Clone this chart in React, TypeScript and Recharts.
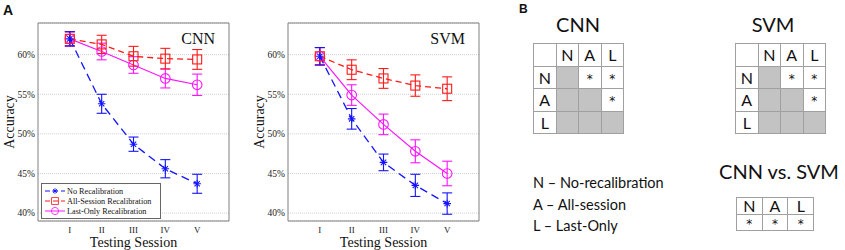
import React from 'react';
import { LineChart, Line, XAxis, YAxis, CartesianGrid, ErrorBar, ReferenceArea, Legend } from 'recharts';

// sessions on the x axis (numeric so we get a half-gap on both ends)
const sessions = [1, 2, 3, 4, 5];
const sessionLabels = ['I', 'II', 'III', 'IV', 'V'];
const accuracyTicks = [40, 45, 50, 55, 60];

// CNN accuracy (%) and error bar half-widths
const cnnNone = [62.0, 53.8, 48.7, 45.6, 43.7];
const cnnNoneErr = [0.9, 1.2, 0.9, 1.15, 1.2];
const cnnAll = [62.0, 61.3, 59.8, 59.5, 59.4];
const cnnAllErr = [0.9, 1.15, 1.25, 1.3, 1.25];
const cnnLast = [62.0, 60.4, 58.7, 57.0, 56.2];
const cnnLastErr = [0.9, 1.05, 1.05, 1.2, 1.35];

// SVM accuracy (%)
const svmNone = [59.8, 51.9, 46.4, 43.5, 41.2];
const svmNoneErr = [1.1, 1.3, 1.05, 1.4, 1.35];
const svmAll = [59.8, 58.1, 57.0, 56.1, 55.7];
const svmAllErr = [1.1, 1.25, 1.25, 1.35, 1.5];
const svmLast = [59.8, 54.9, 51.2, 47.8, 45.0];
const svmLastErr = [1.1, 1.3, 1.3, 1.45, 1.55];

// panel B: significance tables ('-' = greyed cell)
const methods = ['N', 'A', 'L'];
const methodNames = ['No-recalibration', 'All-session', 'Last-Only'];
const cnnSig = [['-', '*', '*'], ['-', '-', '*'], ['-', '-', '-']];
const svmSig = [['-', '*', '*'], ['-', '-', '*'], ['-', '-', '-']];
const crossSig = ['*', '*', '*'];

const BLUE = '#1414ff';
const RED = '#ff1a1a';
const MAGENTA = '#ff14ff';
const SERIF = '"Liberation Serif", "Times New Roman", serif';
const SANS = 'Lato, "Open Sans", sans-serif';

const buildRows = (none: number[], noneErr: number[], all: number[], allErr: number[], last: number[], lastErr: number[]) =>
  sessions.map((x, i) => ({
    x,
    none: none[i], noneErr: noneErr[i],
    all: all[i], allErr: allErr[i],
    last: last[i], lastErr: lastErr[i],
  }));

const cnnRows = buildRows(cnnNone, cnnNoneErr, cnnAll, cnnAllErr, cnnLast, cnnLastErr);
const svmRows = buildRows(svmNone, svmNoneErr, svmAll, svmAllErr, svmLast, svmLastErr);

type MarkerKind = 'star' | 'square' | 'circle';

const Marker = ({ cx, cy, kind, color }: { cx: number; cy: number; kind: MarkerKind; color: string }) => {
  if (cx == null || cy == null) return null;
  if (kind === 'square') {
    return <rect x={cx - 4.5} y={cy - 4.5} width={9} height={9} fill="none" stroke={color} strokeWidth={1.1} />;
  }
  if (kind === 'circle') {
    return <circle cx={cx} cy={cy} r={4.8} fill="none" stroke={color} strokeWidth={1.1} />;
  }
  const r = 3.8;
  const d = r * 0.7;
  return (
    <g stroke={color} strokeWidth={1.1}>
      <line x1={cx - r} y1={cy} x2={cx + r} y2={cy} />
      <line x1={cx} y1={cy - r} x2={cx} y2={cy + r} />
      <line x1={cx - d} y1={cy - d} x2={cx + d} y2={cy + d} />
      <line x1={cx - d} y1={cy + d} x2={cx + d} y2={cy - d} />
    </g>
  );
};

const legendItems: { name: string; color: string; dash?: string; kind: MarkerKind }[] = [
  { name: 'No Recalibration', color: BLUE, dash: '5 3', kind: 'star' },
  { name: 'All-Session Recalibration', color: RED, dash: '5 3', kind: 'square' },
  { name: 'Last-Only Recalibration', color: MAGENTA, kind: 'circle' },
];

const LegendBox = () => (
  <svg width={120} height={36}>
    <rect x={0.5} y={0.5} width={119} height={35} fill="#fff" stroke="#666" />
    {legendItems.map((it, i) => (
      <g key={it.name}>
        <line x1={4} x2={24} y1={8 + i * 10} y2={8 + i * 10} stroke={it.color} strokeWidth={1} strokeDasharray={it.dash} />
        <g transform={`translate(14 ${8 + i * 10}) scale(0.75) translate(-14 ${-(8 + i * 10)})`}>
          <Marker cx={14} cy={8 + i * 10} kind={it.kind} color={it.color} />
        </g>
        <text x={26} y={11 + i * 10} fontSize={8.2} fontFamily={SERIF} fill="#111">{it.name}</text>
      </g>
    ))}
  </svg>
);

const AccuracyPanel = ({ rows, title, showLegend }: { rows: any[]; title: string; showLegend?: boolean }) => (
  <div style={{ position: 'relative', width: 240, height: 250 }}>
    <LineChart width={240} height={250} data={rows} margin={{ top: 23, right: 11, bottom: 0, left: 0 }}>
      <CartesianGrid vertical={false} stroke="#cfcfcf" strokeDasharray="1 1" />
      <XAxis
        type="number"
        dataKey="x"
        domain={[0, 6]}
        ticks={sessions}
        tickFormatter={(v: number) => sessionLabels[v - 1]}
        axisLine={false}
        tickLine={false}
        tickSize={5}
        tickMargin={1}
        height={29}
        tick={{ fontSize: 9, fontFamily: SERIF, fill: '#222' }}
        label={{ value: 'Testing Session', position: 'insideBottom', offset: 3, fontSize: 14, fontFamily: SERIF, fill: '#111' }}
      />
      <YAxis
        domain={[39, 64]}
        allowDataOverflow
        ticks={accuracyTicks}
        tickFormatter={(v: number) => `${v}%`}
        axisLine={false}
        tickLine={false}
        tickSize={2}
        tickMargin={1}
        width={38}
        tick={{ fontSize: 9.5, fontFamily: SERIF, fill: '#222' }}
        label={{ value: 'Accuracy', angle: -90, position: 'insideLeft', offset: 9, fontSize: 14, fontFamily: SERIF, fill: '#111', style: { textAnchor: 'middle' } }}
      />
      <ReferenceArea x1={0} x2={6} y1={39} y2={64} fill="none" stroke="#808080" strokeWidth={1} />
      <Line dataKey="last" stroke={MAGENTA} strokeWidth={1.2} isAnimationActive={false}
        dot={(p: any) => <Marker key={`l${p.index}`} cx={p.cx} cy={p.cy} kind="circle" color={MAGENTA} />}>
        <ErrorBar dataKey="lastErr" width={5} stroke={MAGENTA} strokeWidth={1.1} isAnimationActive={false} />
      </Line>
      <Line dataKey="all" stroke={RED} strokeWidth={1.3} strokeDasharray="6 4" isAnimationActive={false}
        dot={(p: any) => <Marker key={`a${p.index}`} cx={p.cx} cy={p.cy} kind="square" color={RED} />}>
        <ErrorBar dataKey="allErr" width={5} stroke={RED} strokeWidth={1.1} isAnimationActive={false} />
      </Line>
      <Line dataKey="none" stroke={BLUE} strokeWidth={1.3} strokeDasharray="8 5" isAnimationActive={false}
        dot={(p: any) => <Marker key={`n${p.index}`} cx={p.cx} cy={p.cy} kind="star" color={BLUE} />}>
        <ErrorBar dataKey="noneErr" width={5} stroke={BLUE} strokeWidth={1.1} isAnimationActive={false} />
      </Line>
      {showLegend && (
        <Legend layout="vertical" align="center" verticalAlign="middle" content={() => <LegendBox />}
          wrapperStyle={{ left: 41, top: 183, width: 120, height: 36 }} />
      )}
    </LineChart>
    <div style={{ position: 'absolute', right: 25, top: 31, fontFamily: SERIF, fontSize: 16, color: '#111', lineHeight: '16px' }}>{title}</div>
  </div>
);

const cellBorder = '1px solid #a0a0a0';

const SigMatrix = ({ left, top, sig }: { left: number; top: number; sig: string[][] }) => {
  const cs = 22.5;
  const cells: React.ReactNode[] = [];
  for (let r = 0; r < 4; r++) {
    for (let c = 0; c < 4; c++) {
      let text = '';
      let bg = '#fff';
      if (r === 0 && c > 0) text = methods[c - 1];
      else if (c === 0 && r > 0) text = methods[r - 1];
      else if (r > 0 && c > 0) {
        const v = sig[r - 1][c - 1];
        if (v === '-') bg = '#c3c3c3';
        else text = v;
      }
      cells.push(
        <div key={`${r}-${c}`} style={{
          position: 'absolute', left: left + c * cs, top: top + r * cs, width: cs + 1, height: cs + 1,
          boxSizing: 'border-box', border: cellBorder, background: bg,
          display: 'flex', alignItems: 'center', justifyContent: 'center',
          fontFamily: text === '*' ? '"DejaVu Sans", sans-serif' : SANS, fontSize: text === '*' ? 12 : 16, color: '#111',
          paddingTop: text === '*' ? 3 : 0,
        }}>{text}</div>
      );
    }
  }
  return <>{cells}</>;
};

const CrossMatrix = ({ left, top }: { left: number; top: number }) => {
  const cw = 25.7;
  const ch = 16.7;
  return (
    <>
      {[0, 1].map(r => crossSig.map((s, c) => (
        <div key={`${r}-${c}`} style={{
          position: 'absolute', left: left + c * cw, top: top + r * ch, width: cw + 1, height: ch + 1,
          boxSizing: 'border-box', border: cellBorder, background: '#fff',
          display: 'flex', alignItems: 'center', justifyContent: 'center',
          fontFamily: r === 0 ? SANS : '"DejaVu Sans", sans-serif', fontSize: r === 0 ? 16 : 12, color: '#111', paddingTop: r === 0 ? 0 : 3,
        }}>{r === 0 ? methods[c] : s}</div>
      )))}
    </>
  );
};

const PanelLetter = ({ x, y, size, children }: { x: number; y: number; size: number; children: string }) => (
  <div style={{ position: 'absolute', left: x, top: y, fontFamily: '"Liberation Sans", Arial, sans-serif', fontWeight: 700, fontSize: size, lineHeight: 1, color: '#111' }}>{children}</div>
);

const Title = ({ cx, top, size, children }: { cx: number; top: number; size: number; children: string }) => (
  <div style={{ position: 'absolute', left: cx - 100, width: 200, top, textAlign: 'center', fontFamily: SANS, fontSize: size, lineHeight: 1, color: '#111' }}>{children}</div>
);

export default function App() {
  return (
    <div style={{ position: 'fixed', left: 0, top: 0, width: 845, height: 250, background: '#fff', overflow: 'hidden' }}>
      <PanelLetter x={3} y={3} size={14}>A</PanelLetter>
      <div style={{ position: 'absolute', left: 0, top: 0 }}>
        <AccuracyPanel rows={cnnRows} title="CNN" showLegend />
      </div>
      <div style={{ position: 'absolute', left: 250, top: 0 }}>
        <AccuracyPanel rows={svmRows} title="SVM" />
      </div>

      <PanelLetter x={519} y={3} size={12}>B</PanelLetter>
      <Title cx={578} top={14} size={20}>CNN</Title>
      <SigMatrix left={533} top={43} sig={cnnSig} />
      <Title cx={773} top={14} size={20}>SVM</Title>
      <SigMatrix left={735} top={43} sig={svmSig} />

      <div style={{ position: 'absolute', left: 533, top: 172, fontFamily: SANS, fontSize: 14.5, lineHeight: '21.5px', color: '#111' }}>
        {methods.map((m, i) => (
          <div key={m}>{m} – {methodNames[i]}</div>
        ))}
      </div>

      <Title cx={779} top={161} size={20}>CNN vs. SVM</Title>
      <CrossMatrix left={736} top={197} />
    </div>
  );
}
